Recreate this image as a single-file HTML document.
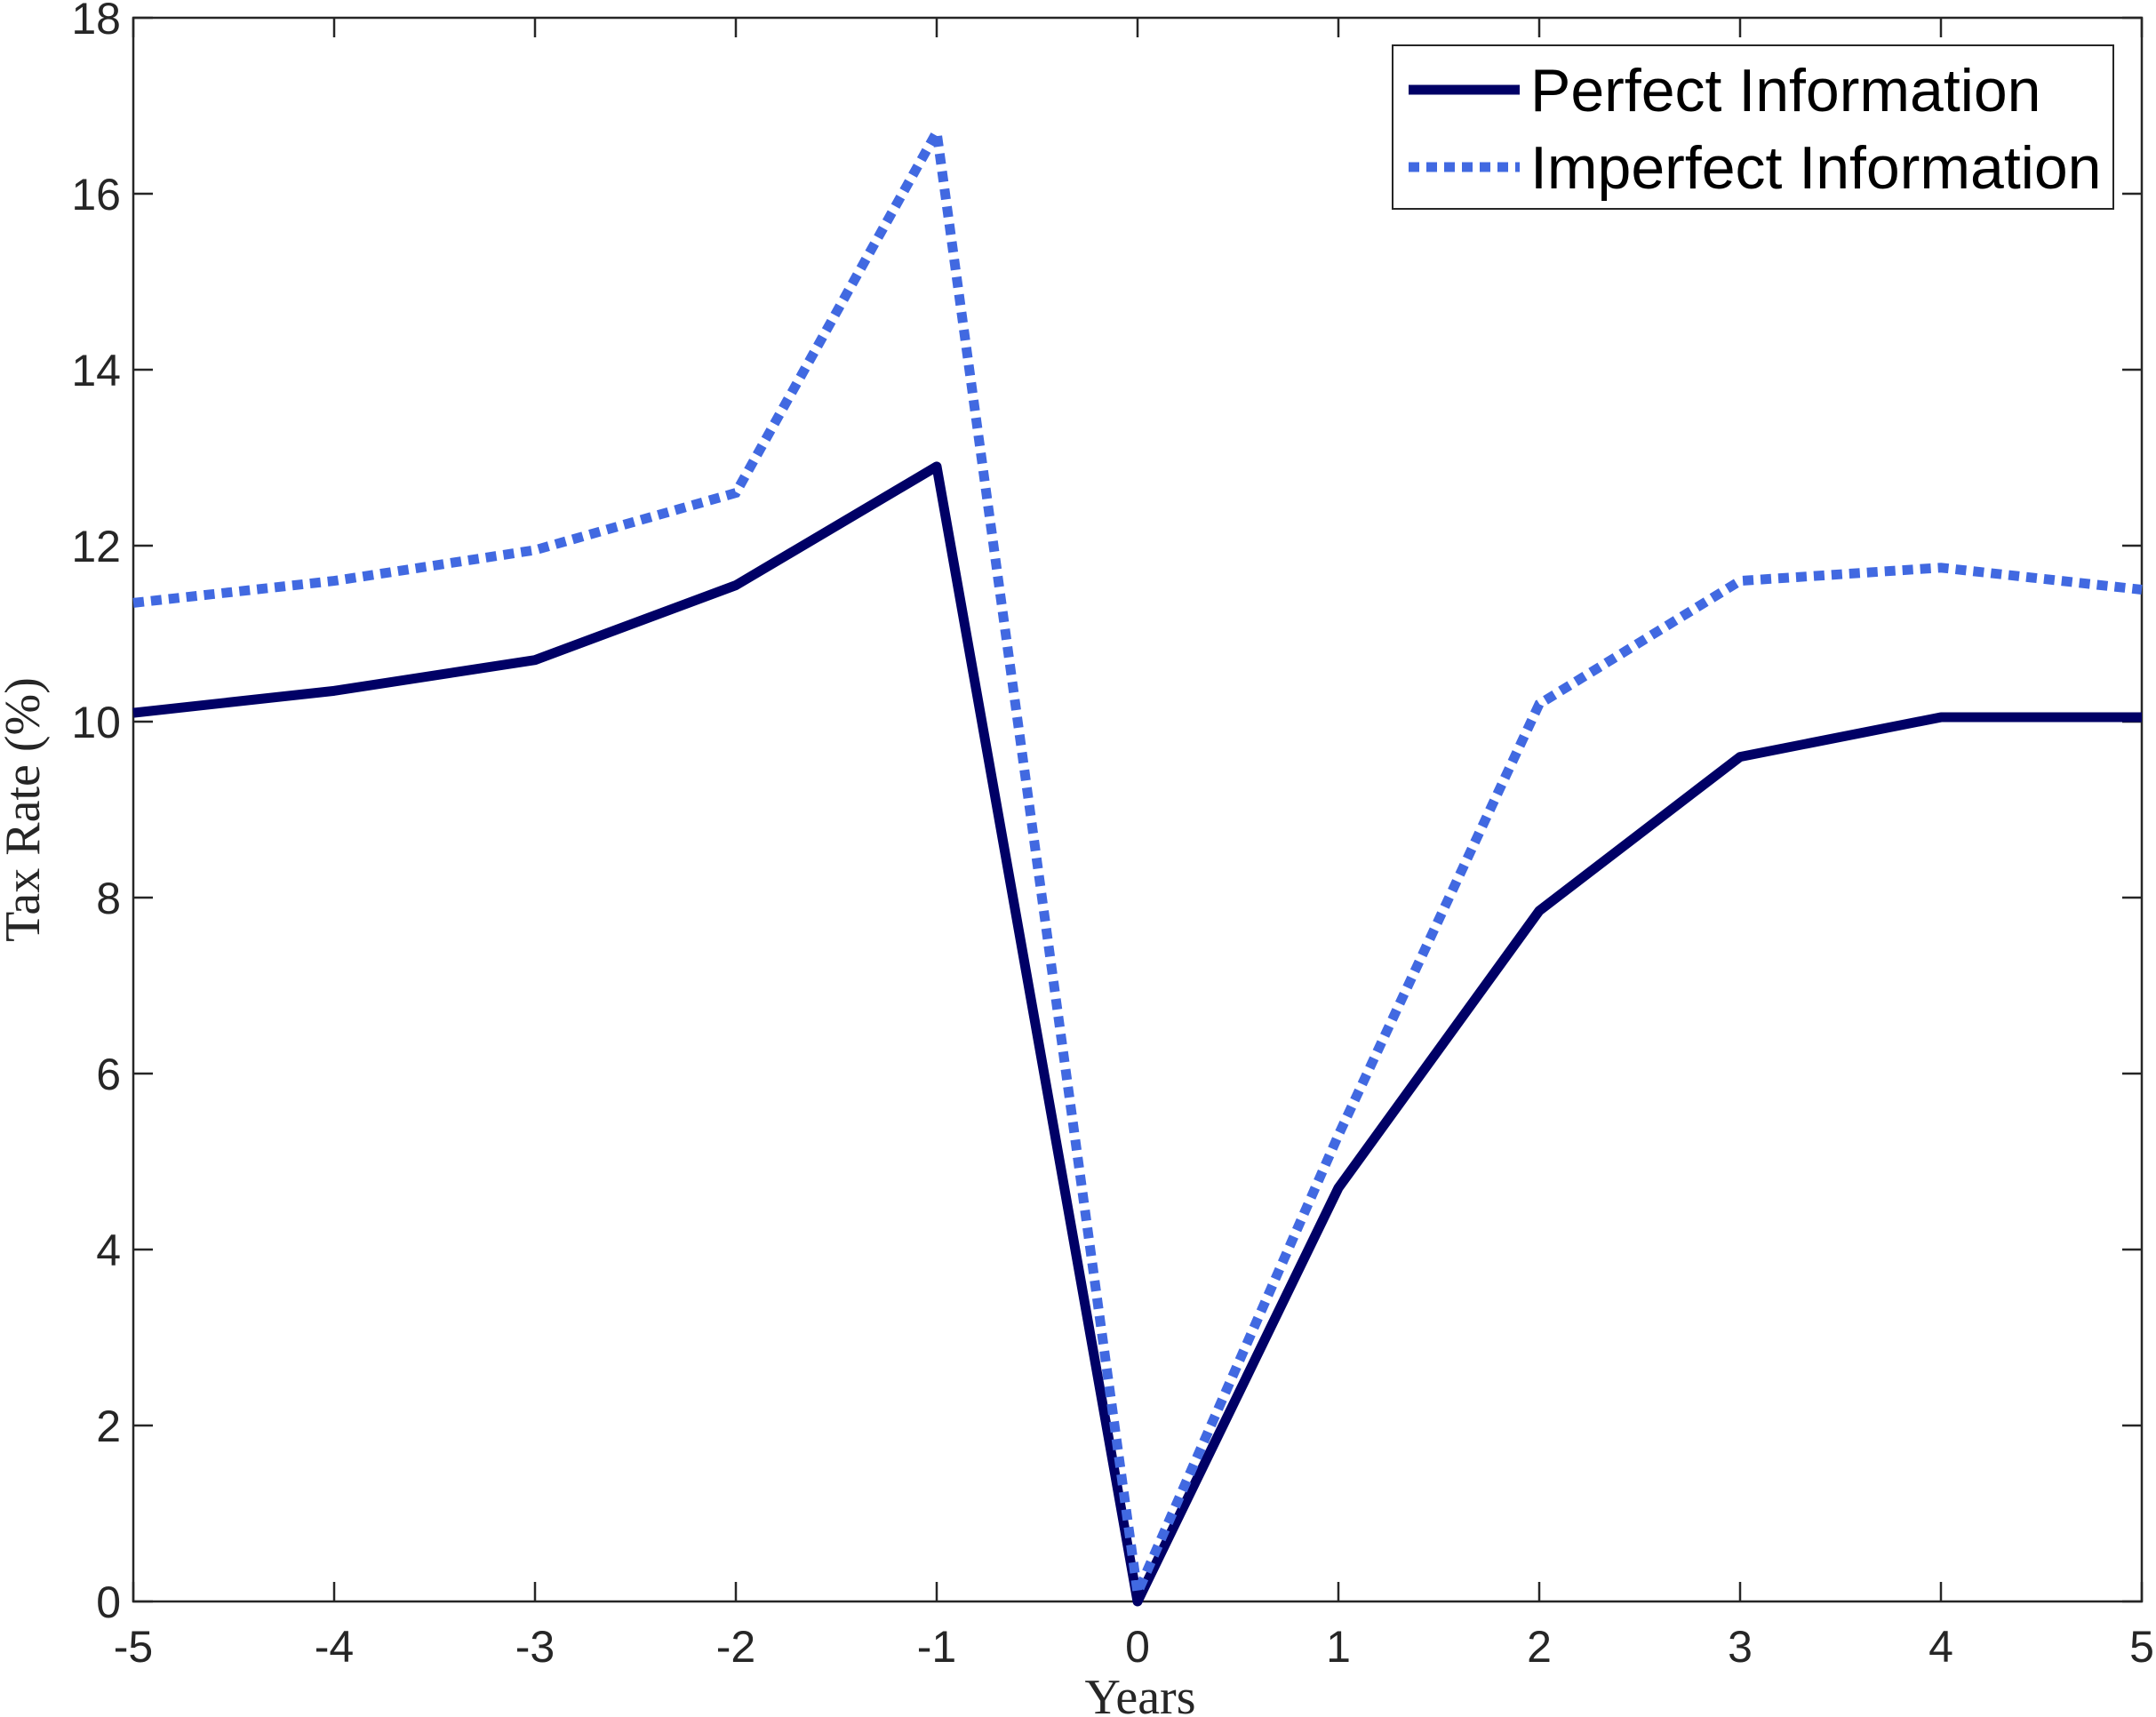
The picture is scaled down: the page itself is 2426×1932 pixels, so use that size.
<!DOCTYPE html>
<html><head><meta charset="utf-8"><style>
html,body{margin:0;padding:0;background:#fff;}
svg{display:block;}
</style></head><body>
<svg id="chart" width="2426" height="1932" xmlns="http://www.w3.org/2000/svg">
<rect x="150" y="20" width="2260" height="1782" fill="#fff" stroke="#262626" stroke-width="2.5"/>
<g id="ticks"></g>
<g id="series"></g>
<text x="1283" y="1928" font-family="Liberation Serif, serif" font-size="56" fill="#262626" text-anchor="middle">Years</text>
<text transform="translate(44,911) rotate(-90)" font-family="Liberation Serif, serif" font-size="56" fill="#262626" text-anchor="middle">Tax Rate (%)</text>
<g>
<rect x="1567" y="51" width="811" height="184" fill="#fff" stroke="#262626" stroke-width="2"/>
<line x1="1585" y1="101" x2="1710" y2="101" stroke="#000066" stroke-width="11"/>
<text x="1722" y="125" font-family="Liberation Sans, sans-serif" font-size="68" fill="#000">Perfect Information</text>
<line x1="1585" y1="188" x2="1710" y2="188" stroke="#4169E1" stroke-width="11" stroke-dasharray="12 8"/>
<text x="1722" y="212" font-family="Liberation Sans, sans-serif" font-size="68" fill="#000">Imperfect Information</text>
</g>
</svg>
<script>
const years = [-5,-4,-3,-2,-1,0,1,2,3,4,5];
const perfect = [10.1,10.35,10.7,11.55,12.9,0,4.7,7.85,9.6,10.05,10.05];
const imperfect = [11.35,11.6,11.95,12.6,16.7,0.1,5.3,10.2,11.6,11.75,11.5];
const xTicks = [-5,-4,-3,-2,-1,0,1,2,3,4,5];
const yTicks = [0,2,4,6,8,10,12,14,16,18];
const L=150,R=2410,T=20,B=1802;
function xs(v){return L+(v+5)/10*(R-L);}
function ys(v){return B-v/18*(B-T);}
const NS="http://www.w3.org/2000/svg";
const tg=document.getElementById('ticks');
function mk(tag,attrs,parent){const e=document.createElementNS(NS,tag);for(const k in attrs)e.setAttribute(k,attrs[k]);parent.appendChild(e);return e;}
xTicks.forEach(t=>{
  const x=xs(t);
  const a=mk('line',{x1:x,y1:B,x2:x,y2:B-22,stroke:'#262626','stroke-width':2.5},tg);
  
  
  const b=mk('line',{x1:x,y1:T,x2:x,y2:T+22,stroke:'#262626','stroke-width':2.5},tg);
  
  
  const tx=mk('text',{x:x,y:B+68,'font-family':'Liberation Sans, sans-serif','font-size':50,fill:'#262626','text-anchor':'middle'},tg);
  tx.textContent=String(t);
  
  
});
yTicks.forEach(t=>{
  const y=ys(t);
  const a=mk('line',{x1:L,y1:y,x2:L+22,y2:y,stroke:'#262626','stroke-width':2.5},tg);
  
  
  const b=mk('line',{x1:R,y1:y,x2:R-22,y2:y,stroke:'#262626','stroke-width':2.5},tg);
  
  
  const tx=mk('text',{x:L-14,y:y+18,'font-family':'Liberation Sans, sans-serif','font-size':50,fill:'#262626','text-anchor':'end'},tg);
  tx.textContent=String(t);
  
  
});
const sg=document.getElementById('series');
function pts(arr){return years.map((yr,i)=>xs(yr)+','+ys(arr[i])).join(' ');}
const p1=mk('polyline',{points:pts(perfect),fill:'none',stroke:'#000066','stroke-width':11,'stroke-linejoin':'round'},sg);


const p2=mk('polyline',{points:pts(imperfect),fill:'none',stroke:'#4169E1','stroke-width':11,'stroke-dasharray':'12 8'},sg);


</script>
</body></html>
